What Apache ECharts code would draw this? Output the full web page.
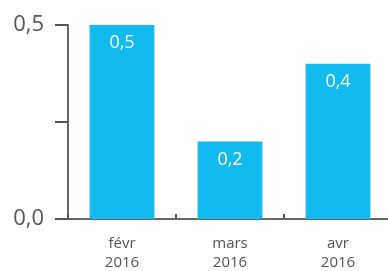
<!DOCTYPE html>
<html>
<head>
<meta charset="utf-8">
<script src="https://cdn.jsdelivr.net/npm/echarts@6/dist/echarts.min.js"></script>
<style>
  html, body { margin: 0; padding: 0; background: #fff; }
  #chart { width: 388px; height: 271px; }
</style>
</head>
<body>
<div id="chart"></div>
<script>
  // données
  const categories = ['févr\n2016', 'mars\n2016', 'avr\n2016']
  const values = [0.5, 0.2, 0.4]
  const yTicks = [0, 0.5]

  const fmt = (v) => v.toFixed(1).replace('.', ',')
  const font = '"Open Sans", sans-serif'

  const chart = echarts.init(document.getElementById('chart'))
  chart.setOption({
    animation: false,
    grid: { left: 68, right: -4, top: 25, bottom: 52, outerBoundsMode: 'none', containLabel: false },
    xAxis: {
      type: 'category',
      data: categories,
      axisLine: { lineStyle: { color: '#666', width: 2 } },
      axisTick: { show: true, inside: true, length: 5, lineStyle: { color: '#555', width: 2 } },
      axisLabel: { color: '#555', fontFamily: font, fontSize: 15, lineHeight: 19, margin: 15 },
    },
    yAxis: {
      type: 'value',
      min: 0,
      max: 0.5,
      interval: 0.25,
      splitLine: { show: false },
      axisLine: { show: true, lineStyle: { color: '#666', width: 2 } },
      axisTick: { show: true, length: 13, lineStyle: { color: '#555', width: 2 } },
      axisLabel: {
        color: '#555',
        fontFamily: font,
        fontSize: 22,
        margin: 24,
        formatter: (v) => (yTicks.includes(v) ? fmt(v) : ''),
      },
    },
    series: [
      {
        type: 'bar',
        data: values,
        barWidth: '60%',
        itemStyle: { color: '#13baed' },
        label: {
          show: true,
          position: 'insideTop',
          distance: 9,
          color: '#fff',
          fontFamily: font,
          fontSize: 18,
          formatter: (p) => fmt(p.value),
        },
      },
    ],
  })
</script>
</body>
</html>
